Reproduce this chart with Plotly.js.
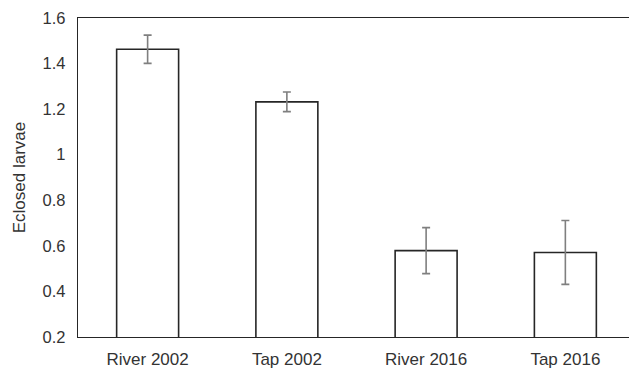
<!DOCTYPE html>
<html>
<head>
<meta charset="utf-8">
<script src="https://cdn.plot.ly/plotly-3.0.1.min.js"></script>
<style>html,body{margin:0;padding:0;background:#fff;}#chart{width:629px;height:368px;}</style>
</head>
<body>
<div id="chart"></div>
<script>
const categories = ["River 2002", "Tap 2002", "River 2016", "Tap 2016"];
const means = [1.463, 1.232, 0.579, 0.571];
const errors = [0.062, 0.043, 0.101, 0.140];
const yTickVals = [0.2, 0.4, 0.6, 0.8, 1.0, 1.2, 1.4, 1.6];
const yTickText = ["0.2", "0.4", "0.6", "0.8", "1", "1.2", "1.4", "1.6"];

const trace = {
  type: "bar",
  x: categories,
  y: means,
  width: 0.445,
  marker: {color: "#ffffff", line: {color: "#262626", width: 1.6}},
  error_y: {type: "data", array: errors, visible: true, color: "#7f7f7f", thickness: 1.6, width: 4},
  hoverinfo: "skip"
};

const layout = {
  width: 629, height: 368,
  margin: {l: 78, r: 0, t: 18, b: 31},
  paper_bgcolor: "#fff", plot_bgcolor: "#fff",
  showlegend: false,
  font: {family: "Liberation Sans, Arial, sans-serif", color: "#333", size: 17},
  xaxis: {
    type: "category",
    range: [-0.5, 3.457],
    showline: true, mirror: true, linecolor: "#262626", linewidth: 1.3,
    showgrid: false, zeroline: false, ticks: "",
    ticklabelstandoff: 6,
    tickfont: {size: 17, color: "#333"},
    fixedrange: true
  },
  yaxis: {
    range: [0.2, 1.6],
    tickvals: yTickVals, ticktext: yTickText,
    showline: true, linecolor: "#262626", linewidth: 1.3,
    showgrid: false, zeroline: false, ticks: "",
    ticklabelstandoff: 8,
    tickfont: {size: 16.5, color: "#333"},
    title: {text: "Eclosed larvae", font: {size: 17, color: "#333"}, standoff: 12},
    fixedrange: true
  }
};

Plotly.newPlot("chart", [trace], layout, {displayModeBar: false, staticPlot: true});
</script>
</body>
</html>
